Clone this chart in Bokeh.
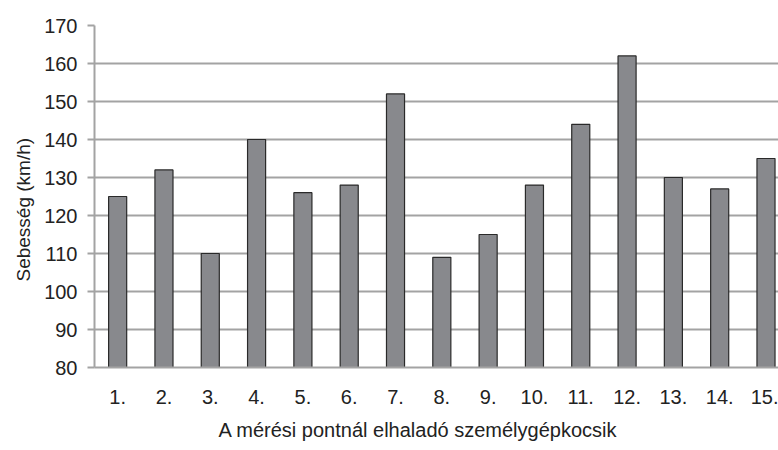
from bokeh.plotting import figure
from bokeh.models import Range1d, FixedTicker, ColumnDataSource, Title
from bokeh.embed import file_html
from bokeh.resources import INLINE

categories = [f"{i}." for i in range(1, 16)]
positions = list(range(1, 16))
speeds = [125, 132, 110, 140, 126, 128, 152, 109, 115, 128, 144, 162, 130, 127, 135]
y_ticks = [80, 90, 100, 110, 120, 130, 140, 150, 160, 170]
x_title = "A mérési pontnál elhaladó személygépkocsik"
y_title = "Sebesség (km/h)"

FONT = "Liberation Sans"
TXT = "#222222"
GRID = "#a3a3a3"

src = ColumnDataSource(dict(x=positions, top=speeds))

p = figure(width=778, height=450, output_backend="svg", toolbar_location=None,
           x_range=Range1d(0.5, 15.27), y_range=Range1d(80, 170),
           min_border_left=94, min_border_right=0, min_border_top=25, min_border_bottom=82)
p.outline_line_color = None

p.vbar(x="x", top="top", bottom=80, width=0.39, source=src,
       fill_color="#88898d", line_color="#2a2a2a", line_width=1.2)

p.xgrid.visible = False
p.ygrid.ticker = FixedTicker(ticks=y_ticks)
p.ygrid.grid_line_color = GRID
p.ygrid.grid_line_width = 2

p.yaxis.ticker = FixedTicker(ticks=y_ticks)
p.yaxis.axis_line_color = GRID
p.yaxis.axis_line_width = 2
p.yaxis.major_tick_line_color = GRID
p.yaxis.major_tick_line_width = 2
p.yaxis.major_tick_out = 7
p.yaxis.major_tick_in = 0
p.yaxis.minor_tick_line_color = None
p.yaxis.major_label_standoff = 10

p.xaxis.ticker = FixedTicker(ticks=positions)
p.xaxis.major_label_overrides = {pos: lab for pos, lab in zip(positions, categories)}
p.xaxis.axis_line_color = GRID
p.xaxis.axis_line_width = 2
p.xaxis.major_tick_line_color = None
p.xaxis.minor_tick_line_color = None
p.xaxis.major_tick_out = 0
p.xaxis.major_label_standoff = 22

for ax in (p.xaxis[0], p.yaxis[0]):
    ax.major_label_text_font = FONT
    ax.major_label_text_font_size = "20px"
    ax.major_label_text_color = TXT

# axis titles as side titles, so they can sit off-centre as in the reference
p.add_layout(Title(text=x_title, align="left", offset=124, standoff=20,
                   text_font=FONT, text_font_size="20px", text_font_style="normal",
                   text_color=TXT), "below")
p.add_layout(Title(text=y_title, align="left", offset=86, standoff=16,
                   text_font=FONT, text_font_size="19px", text_font_style="normal",
                   text_color=TXT), "left")

open("out.html", "w").write(file_html(p, INLINE))
